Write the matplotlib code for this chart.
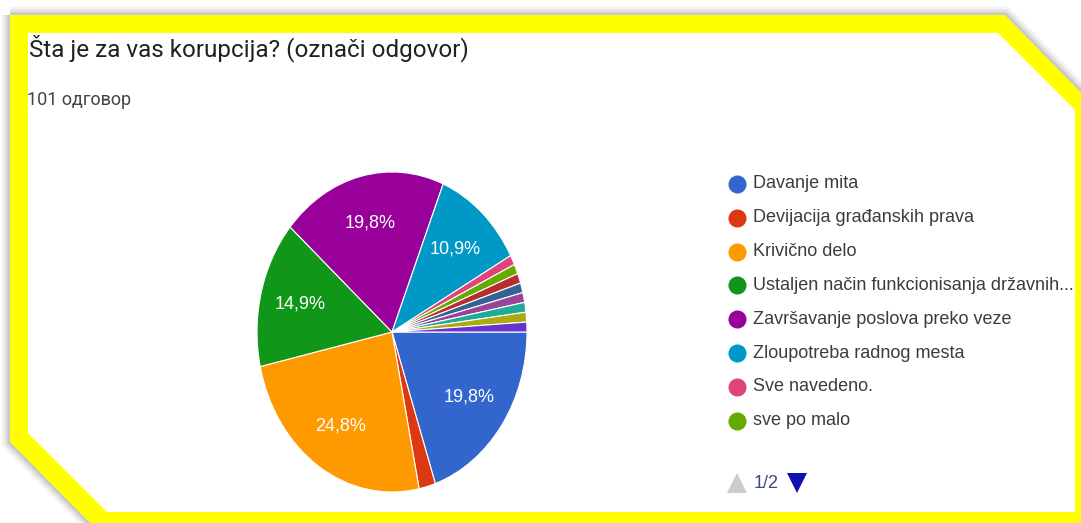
import matplotlib.pyplot as plt
from matplotlib.path import Path
from matplotlib.patches import PathPatch, Polygon

# answers to "Šta je za vas korupcija?" (101 responses), in slice order
counts = [20, 2, 25, 15, 20, 11, 1, 1, 1, 1, 1, 1, 1, 1]
colors = ["#3366cc", "#dc3912", "#ff9900", "#109618", "#990099", "#0099c6",
          "#dd4477", "#66aa00", "#b82e2e", "#316395", "#994499", "#22aa99",
          "#aaaa11", "#6633cc"]
legend_labels = [
    "Davanje mita",
    "Devijacija građanskih prava",
    "Krivično delo",
    "Ustaljen način funkcionisanja državnih...",
    "Završavanje poslova preko veze",
    "Zloupotreba radnog mesta",
    "Sve navedeno.",
    "sve po malo",
]
title = "Šta je za vas korupcija? (označi odgovor)"
subtitle = "101 одговор"
pager = "1/2"

W, H = 1081, 523
fig = plt.figure(figsize=(W / 100, H / 100), dpi=100)
fig.patch.set_facecolor("white")

# pixel overlay for frame, titles and legend
bg = fig.add_axes([0, 0, 1, 1])
bg.set_xlim(0, W)
bg.set_ylim(H, 0)
bg.axis("off")

outer = [(10, 15), (1005, 15), (1095, 107), (1095, 540), (107, 540), (10, 442)]
inner = [(28, 33), (998, 33), (1075, 110), (1075, 512), (107, 512), (28, 433)]

# soft shadow around the frame
for lw, a in [(12, 0.05), (8, 0.07), (4, 0.10)]:
    bg.add_patch(Polygon(outer, closed=True, fill=False, edgecolor="black",
                         linewidth=lw, alpha=a, joinstyle="round"))

verts = outer + [outer[0]] + inner[::-1] + [inner[-1]]
codes = ([Path.MOVETO] + [Path.LINETO] * (len(outer) - 1) + [Path.CLOSEPOLY]
         + [Path.MOVETO] + [Path.LINETO] * (len(inner) - 1) + [Path.CLOSEPOLY])
bg.add_patch(Polygon(inner, closed=True, facecolor="white", edgecolor="none"))
ring = PathPatch(Path(verts, codes), facecolor="#ffff00", edgecolor="none", zorder=5)
bg.add_patch(ring)

bg.text(29, 48, title, fontsize=17.5, family="Roboto", color="#202124", va="center")
bg.text(27, 100, subtitle, fontsize=13, family="Roboto", color="#444444", va="center")

# legend (first page of 2)
for i, (lab, col) in enumerate(zip(legend_labels, colors)):
    y = 184 + i * 33.8
    bg.plot(737, y, "o", color=col, markersize=13, markeredgewidth=0)
    bg.text(753, y, lab, fontsize=13, family="Liberation Sans",
            color="#3c3c3c", va="center")

bg.plot(737, 483, "^", color="#cccccc", markersize=14, markeredgewidth=0)
bg.text(754, 483, pager, fontsize=13, family="Liberation Sans",
        color="#3b4a86", va="center")
bg.plot(797, 483, "v", color="#1010b0", markersize=14, markeredgewidth=0)

# pie axes (screenshot is squeezed horizontally, so the pie is an ellipse)
cx, cy, rx, ry = 392, 332, 135, 160
ax = fig.add_axes([(cx - rx) / W, 1 - (cy + ry) / H, 2 * rx / W, 2 * ry / H])


def fmt(p):
    return f"{p:.1f}%".replace(".", ",") if p >= 5 else ""


ax.pie(counts, colors=colors, startangle=0, counterclock=False, radius=1,
       autopct=fmt, pctdistance=0.7,
       wedgeprops=dict(edgecolor="white", linewidth=0.8),
       textprops=dict(color="white", fontsize=13, family="Liberation Sans"))
ax.set_aspect("auto")
ax.set_xlim(-1, 1)
ax.set_ylim(-1, 1)
ax.axis("off")

fig.savefig("out.png", dpi=100)
